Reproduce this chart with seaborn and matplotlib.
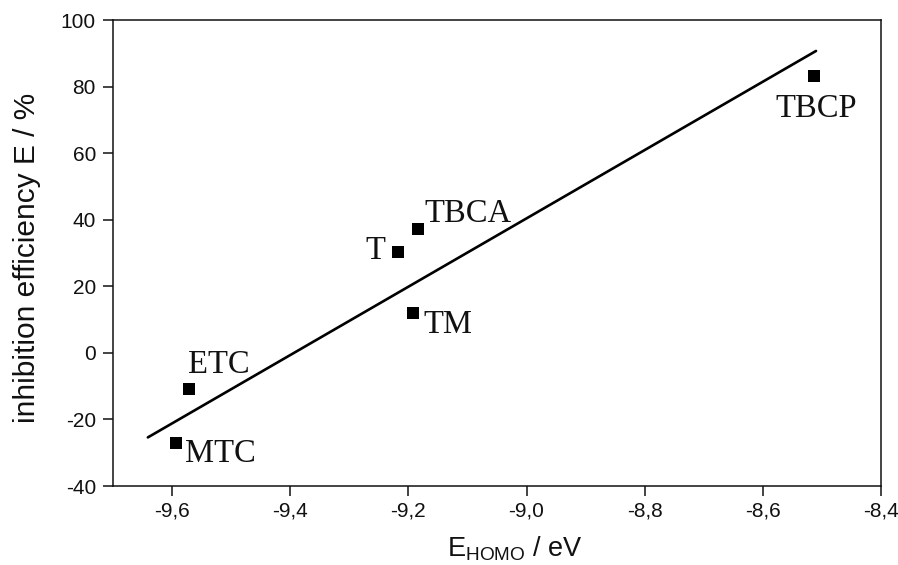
import matplotlib
matplotlib.use("Agg")
import matplotlib.pyplot as plt
import seaborn as sns
import pandas as pd

# compounds and their values
compounds = ["MTC", "ETC", "T", "TBCA", "TM", "TBCP"]
e_homo = [-9.594, -9.571, -9.217, -9.183, -9.192, -8.513]
efficiency = [-27.2, -10.8, 30.2, 37.1, 12.1, 83.2]

# end points of the fitted straight line
fit_x = [-9.641, -8.510]
fit_y = [-25.4, 90.7]

xticks = [-9.6, -9.4, -9.2, -9.0, -8.8, -8.6, -8.4]
xtick_labels = ["-9,6", "-9,4", "-9,2", "-9,0", "-8,8", "-8,6", "-8,4"]
yticks = [-40, -20, 0, 20, 40, 60, 80, 100]
ytick_labels = ["-40", "-20", "0", "20", "40", "60", "80", "100"]

data = pd.DataFrame({"compound": compounds, "e_homo": e_homo, "eff": efficiency})
fit = pd.DataFrame({"x": fit_x, "y": fit_y})

sns.set_style("ticks")
plt.rcParams["font.family"] = ["Liberation Sans", "DejaVu Sans"]
plt.rcParams["mathtext.fontset"] = "custom"
plt.rcParams["mathtext.rm"] = "Liberation Sans"
plt.rcParams["axes.labelcolor"] = "#111111"

fig, ax = plt.subplots(figsize=(8.98, 5.65), dpi=100)
fig.subplots_adjust(left=113 / 898, right=881 / 898, top=1 - 20 / 565, bottom=1 - 486 / 565)

sns.lineplot(data=fit, x="x", y="y", ax=ax, color="black", linewidth=1.9)
sns.scatterplot(data=data, x="e_homo", y="eff", ax=ax, marker="s", s=68,
                color="black", linewidth=0, zorder=3)

# label placement (pixel offsets from each point)
label_pos = {
    "MTC": (9, -19, "left"),
    "ETC": (-1, 16, "left"),
    "T": (-13, -7, "right"),
    "TBCA": (6, 7, "left"),
    "TM": (10, -20, "left"),
    "TBCP": (2, -41, "center"),
}
for _, row in data.iterrows():
    dx, dy, ha = label_pos[row["compound"]]
    ax.annotate(row["compound"], (row["e_homo"], row["eff"]), xytext=(dx, dy),
                textcoords="offset pixels", ha=ha, va="baseline",
                family="Liberation Serif", fontsize=23.5, color="#111111")

ax.set_xlim(-9.7, -8.4)
ax.set_ylim(-40, 100)
ax.set_xticks(xticks)
ax.set_xticklabels(xtick_labels)
ax.set_yticks(yticks)
ax.set_yticklabels(ytick_labels)
ax.tick_params(direction="out", length=7.5, width=1.1, labelsize=15, colors="#111111",
               top=False, right=False)
ax.tick_params(axis="x", pad=3.8)
ax.tick_params(axis="y", pad=4.8)
for sp in ax.spines.values():
    sp.set_visible(True)
    sp.set_linewidth(1.1)
    sp.set_color("#111111")

ax.set_xlabel(r"E$_{\mathrm{HOMO}}$ / eV", fontsize=19.5)
ax.set_ylabel("inhibition efficiency E / %", fontsize=21.5)
ax.xaxis.set_label_coords(0.523, -0.105)
ax.yaxis.set_label_coords(-0.094, 0.49)

fig.savefig("out.png", dpi=100)
plt.close(fig)
